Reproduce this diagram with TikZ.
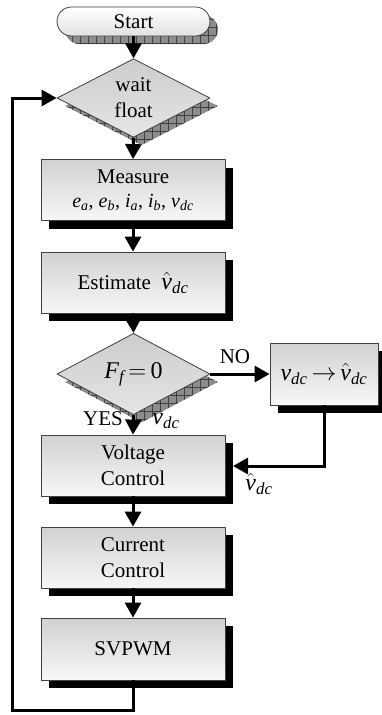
\documentclass[tikz,border=0pt]{standalone}
\usepackage{amsmath}
\usepackage{fontspec}
\setmainfont{Liberation Serif}
\usetikzlibrary{shapes.geometric,shapes.misc,shadows,patterns.meta,arrows.meta}
\newcommand{\myvdc}{\ensuremath{\textit{v}_{\textit{dc}}}}
\newcommand{\myvhat}{\ensuremath{\hat{\textit{v}}_{\textit{dc}}}}
\tikzset{
  hatchshadow/.style={
    general shadow={shadow xshift=8pt,shadow yshift=-8pt,fill=black!45},
    general shadow={shadow xshift=8pt,shadow yshift=-8pt,pattern={Hatch[angle=0,distance=8pt,line width=0.5pt]},pattern color=black!75}},
  boxnode/.style={rectangle,draw=black!75,line width=0.8pt,top color=black!18,bottom color=black!3,
    minimum width=184pt,minimum height=61pt,inner sep=0pt,align=center,
    drop shadow={shadow xshift=8pt,shadow yshift=-8pt,fill=black,opacity=1}},
  decnode/.style={diamond,draw=black!75,line width=0.8pt,top color=black!20,bottom color=black!10,
    minimum width=153pt,minimum height=60pt,inner sep=0pt,align=center,hatchshadow},
  termnode/.style={rounded rectangle,draw=black!75,line width=0.8pt,top color=white,bottom color=black!12,
    minimum width=153pt,minimum height=29pt,inner sep=0pt,hatchshadow},
  flow/.style={line width=3pt,-{Triangle[length=15pt,width=16pt]}},
}
\begin{document}
\begin{tikzpicture}[x=1pt,y=-1pt,font=\fontsize{21}{26}\selectfont]
\useasboundingbox (0,0) rectangle (382,715);
\node[termnode] (start) at (133.5,21.5) {Start};
\node[decnode] (wait) at (133.5,98) {wait\\float};
\node[boxnode] (measure) at (133,190) {Measure\\[-2pt]\fontsize{20}{24}\selectfont $\textit{e}_{\textit{a}}$, $\textit{e}_{\textit{b}}$, $\textit{i}_{\textit{a}}$, $\textit{i}_{\textit{b}}$, \myvdc};
\node[boxnode] (estimate) at (133,282.5) {Estimate\ \ {\fontsize{24}{28}\selectfont\myvhat}};
\node[decnode] (ff) at (133.5,374) {{\fontsize{24}{28}\selectfont$\textit{F}_{\textit{f}}\,{=}\,\textrm{0}$}};
\node[boxnode,minimum width=108pt,minimum height=62pt] (conv) at (324,374) {\fontsize{24}{28}\selectfont\myvdc\,$\rightarrow$\,\myvhat};
\node[boxnode] (voltage) at (133,465.5) {Voltage\\Control};
\node[boxnode] (current) at (133,557.5) {Current\\Control};
\node[boxnode,minimum height=62pt] (svpwm) at (133,649) {SVPWM};
\node (no) at (235,357) {NO};
\node (yes) at (103,419) {YES};
\node (vdcl) at (166,421) {\fontsize{24}{28}\selectfont\myvdc};
\node (vhatl) at (259,484) {\fontsize{24}{28}\selectfont\myvhat};
\coordinate (ret) at (233,466);
\coordinate (lb) at (12,710);
\coordinate (lt) at (12,98);
\draw[flow] (start.south) -- (wait.north);
\draw[flow] (wait.south) -- (measure.north);
\draw[flow] (measure.south) -- (estimate.north);
\draw[flow] (estimate.south) -- (ff.north);
\draw[flow] (ff.east) -- (conv.west);
\draw[flow] (ff.south) -- (voltage.north);
\draw[flow] (conv.south) |- (ret);
\draw[flow] (voltage.south) -- (current.north);
\draw[flow] (current.south) -- (svpwm.north);
\draw[flow] (svpwm.south) |- (lb) -- (lt) -- (wait.west);
\end{tikzpicture}
\end{document}
